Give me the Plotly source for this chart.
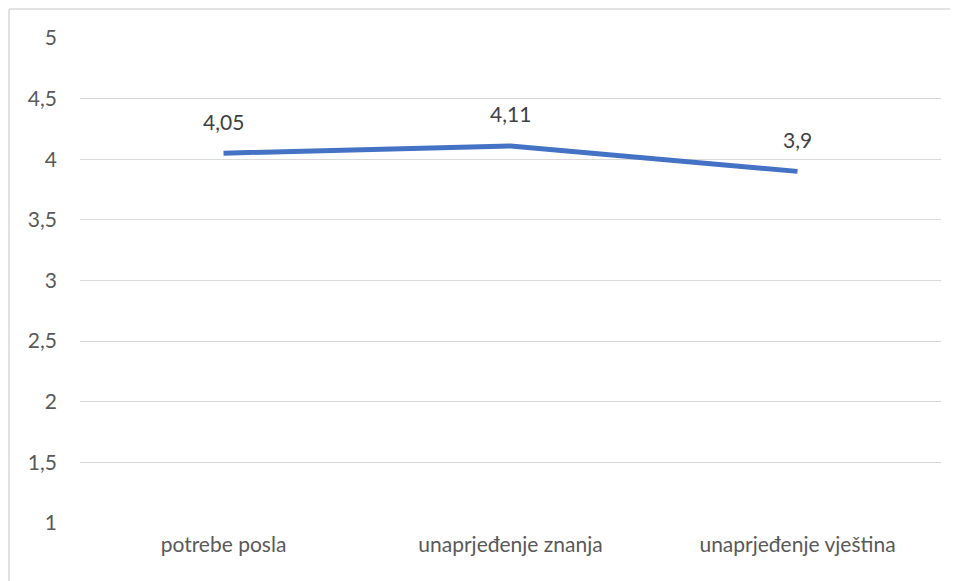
import plotly.graph_objects as go

categories = ["potrebe posla", "unaprjeđenje znanja", "unaprjeđenje vještina"]
values = [4.05, 4.11, 3.9]
tick_vals = [1, 1.5, 2, 2.5, 3, 3.5, 4, 4.5, 5]
tick_text = [str(v).replace(".", ",") for v in tick_vals]
labels = [f"{v:g}".replace(".", ",") for v in values]

# the page puts the figure 8px in from the top-left corner
OFF = 8
W, H = 958, 581
L, R, T, B = 80 - OFF, W - 941 + OFF, 38 - OFF, H - 523 + OFF
pw, ph = W - L - R, H - T - B

fam = "Lato, Open Sans, sans-serif"
font = dict(family=fam, size=21, color="#595959")

fig = go.Figure()
fig.add_trace(go.Scatter(
    x=categories, y=values, mode="lines",
    line=dict(color="#4472C4", width=5),
    hoverinfo="skip"))
for c, v, t in zip(categories, values, labels):
    fig.add_annotation(x=c, y=v, text=t, showarrow=False, yanchor="middle",
                       yshift=32, font=dict(family=fam, size=21, color="#404040"))

# outer chart frame (only top and left edges fall inside the picture)
x0 = (9 - OFF - L) / pw
y1 = (H - B - (9 - OFF)) / ph
fig.add_shape(type="line", xref="paper", yref="paper", x0=x0, x1=(W + 20 - L) / pw,
              y0=y1, y1=y1, line=dict(color="#D9D9D9", width=1.5))
fig.add_shape(type="line", xref="paper", yref="paper", x0=x0, x1=x0,
              y0=y1, y1=-(B + 20) / ph, line=dict(color="#D9D9D9", width=1.5))

fig.update_xaxes(type="category", range=[-0.5, 2.5], showgrid=False, showline=False,
                 zeroline=False, ticks="", tickfont=font, ticklabelstandoff=7)
fig.update_yaxes(range=[1, 5], tickvals=tick_vals, ticktext=tick_text, showgrid=True,
                 gridcolor="#D9D9D9", gridwidth=1.3, zeroline=False, showline=False,
                 ticks="", tickfont=font, ticklabelstandoff=22)
fig.update_layout(width=W, height=H, margin=dict(l=L, r=R, t=T, b=B),
                  plot_bgcolor="white", paper_bgcolor="white", showlegend=False)
fig.write_html("out.html")
